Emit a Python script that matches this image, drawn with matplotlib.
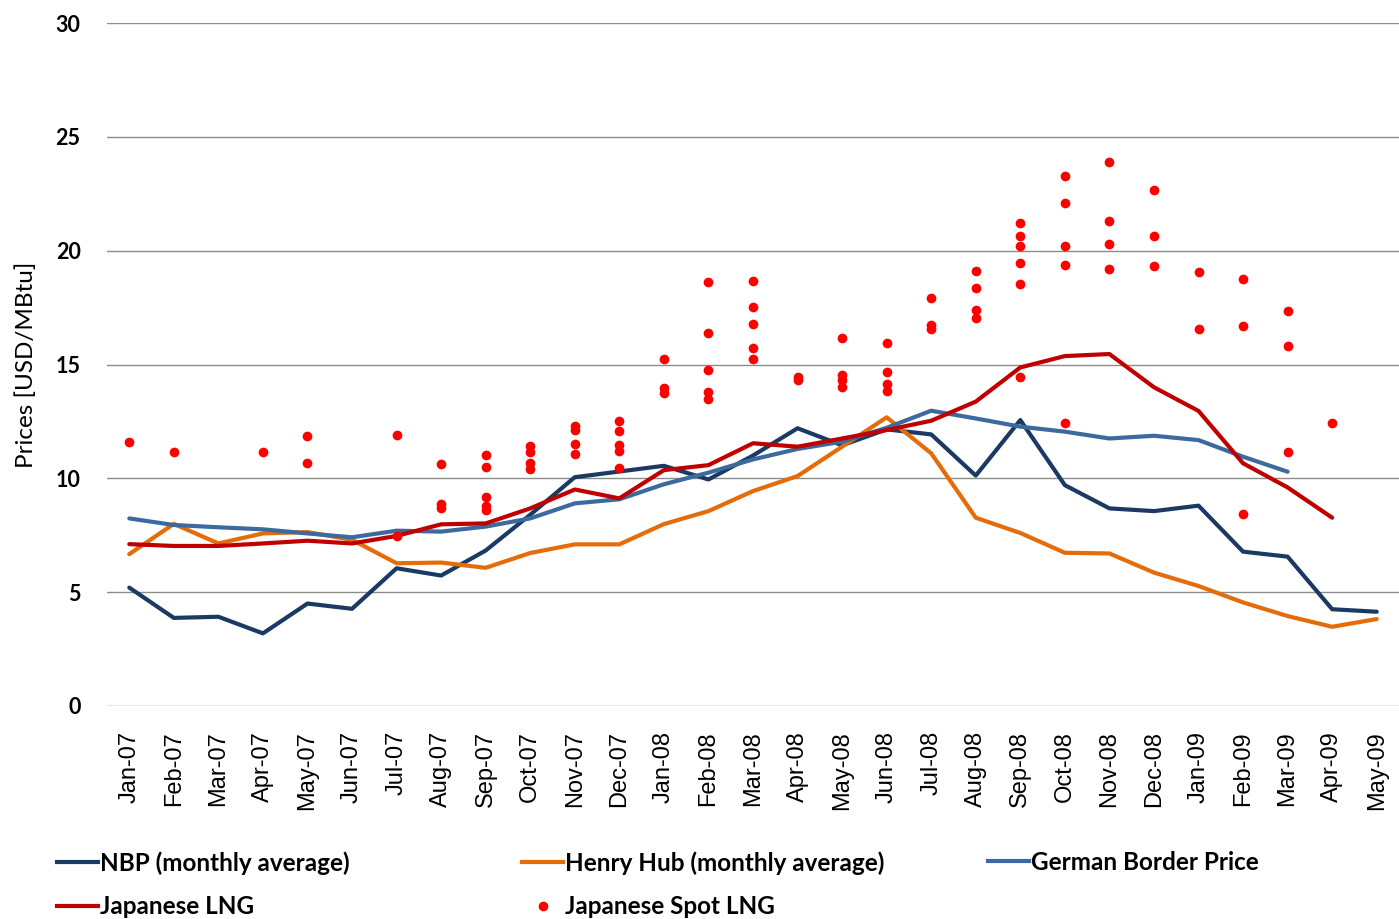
import matplotlib
matplotlib.use('Agg')
import matplotlib.pyplot as plt
import numpy as np
from matplotlib.lines import Line2D

# data (USD/MBtu)
months = ['Jan-07', 'Feb-07', 'Mar-07', 'Apr-07', 'May-07', 'Jun-07', 'Jul-07',
          'Aug-07', 'Sep-07', 'Oct-07', 'Nov-07', 'Dec-07', 'Jan-08', 'Feb-08',
          'Mar-08', 'Apr-08', 'May-08', 'Jun-08', 'Jul-08', 'Aug-08', 'Sep-08',
          'Oct-08', 'Nov-08', 'Dec-08', 'Jan-09', 'Feb-09', 'Mar-09', 'Apr-09',
          'May-09']

nbp = [5.2, 3.87, 3.92, 3.19, 4.5, 4.27, 6.05, 5.73, 6.83, 8.4, 10.05, 10.3,
       10.55, 9.95, 11.0, 12.2, 11.45, 12.15, 11.93, 10.12, 12.56, 9.7, 8.68,
       8.56, 8.8, 6.78, 6.56, 4.25, 4.14]

henry_hub = [6.67, 8.0, 7.14, 7.58, 7.64, 7.3, 6.27, 6.3, 6.07, 6.72, 7.1, 7.1,
             7.99, 8.56, 9.44, 10.1, 11.39, 12.68, 11.1, 8.27, 7.6, 6.73, 6.7,
             5.86, 5.27, 4.55, 3.95, 3.48, 3.82]

german_border = [8.24, 7.95, 7.85, 7.76, 7.58, 7.41, 7.7, 7.66, 7.88, 8.24, 8.9,
                 9.08, 9.74, 10.25, 10.83, 11.29, 11.61, 12.22, 12.97, 12.63,
                 12.27, 12.05, 11.75, 11.87, 11.68, 10.95, 10.29, np.nan, np.nan]

japanese_lng = [7.11, 7.03, 7.03, 7.14, 7.26, 7.14, 7.47, 7.98, 8.02, 8.68, 9.51,
                9.12, 10.36, 10.58, 11.54, 11.39, 11.75, 12.12, 12.53, 13.37,
                14.87, 15.37, 15.46, 14.0, 12.96, 10.66, 9.6, 8.27, np.nan]

# spot cargoes, one list per month
japanese_spot = [
    [11.58], [11.14], [], [11.14], [11.87, 10.66], [], [11.89, 7.47],
    [10.61, 8.87, 8.68], [11.02, 10.51, 9.19, 8.78, 8.61],
    [11.43, 11.14, 10.69, 10.41], [12.31, 12.12, 11.49, 11.07],
    [12.52, 12.08, 11.46, 11.2, 10.47], [15.23, 13.98, 13.73],
    [18.62, 16.4, 14.76, 13.8, 13.47], [18.66, 17.54, 16.8, 15.74, 15.24],
    [14.43, 14.32], [16.17, 14.54, 14.32, 14.0], [15.93, 14.68, 14.13, 13.83],
    [17.93, 16.73, 16.56], [19.1, 18.37, 17.39, 17.05],
    [21.23, 20.65, 20.2, 19.47, 18.53, 14.43], [23.3, 22.1, 20.2, 19.37, 12.41],
    [23.89, 21.31, 20.28, 19.19], [22.65, 20.64, 19.32], [19.07, 16.54],
    [18.74, 16.7, 8.42], [17.33, 15.83, 11.14], [12.44], [],
]

C_NBP = '#1b3a63'
C_HH = '#e46c0a'
C_GBP = '#3d6a9e'
C_JLNG = '#c00000'
C_SPOT = '#ff0000'

x = np.arange(len(months))
spot_x = [i for i, vals in enumerate(japanese_spot) for _ in vals]
spot_y = [v for vals in japanese_spot for v in vals]

fig = plt.figure(figsize=(13.99, 9.19), dpi=100)
ax = fig.add_axes([107 / 1399, 1 - 706 / 919, 1 - 107 / 1399, 683 / 919])

lw = 3.0
kw = dict(linewidth=lw, solid_joinstyle='round', solid_capstyle='round')
ax.plot(x, nbp, color=C_NBP, **kw)
ax.plot(x, henry_hub, color=C_HH, **kw)
ax.plot(x, german_border, color=C_GBP, **kw)
ax.plot(x, japanese_lng, color=C_JLNG, **kw)
ax.plot(spot_x, spot_y, linestyle='none', marker='o', markersize=7,
        color=C_SPOT, markeredgewidth=0, zorder=5)

ax.set_xlim(-0.5, len(months) - 0.5)
ax.set_ylim(0, 30)
ax.set_yticks(range(0, 31, 5))
ax.grid(axis='y', color='#8c8c8c', linewidth=1.0)
ax.set_axisbelow(True)
for s in ax.spines.values():
    s.set_visible(False)

ax.set_xticks(x)
ax.set_xticklabels(months, rotation=90, fontsize=17, family='Liberation Sans')
ax.tick_params(axis='x', length=0, pad=18)
ax.tick_params(axis='y', length=0, pad=19)
for lbl in ax.get_yticklabels():
    lbl.set_fontfamily('Lato')
    lbl.set_fontweight('bold')
    lbl.set_fontsize(15.5)

ax.set_ylabel('Prices [USD/MBtu]', fontsize=17.5, family='Lato')
ax.yaxis.set_label_coords(-0.054, 0.5)

# legend laid out in three columns like the original
def mk_line(c):
    return Line2D([], [], color=c, linewidth=lw)

spot_handle = Line2D([], [], linestyle='none', marker='o', markersize=7,
                     color=C_SPOT, markeredgewidth=0)
columns = [
    (57, [mk_line(C_NBP), mk_line(C_JLNG)],
     ['NBP (monthly average)', 'Japanese LNG']),
    (522, [mk_line(C_HH), spot_handle],
     ['Henry Hub (monthly average)', 'Japanese Spot LNG']),
    (988, [mk_line(C_GBP)], ['German Border Price']),
]
for px, handles, labels in columns:
    fig.legend(handles, labels, loc='upper left',
               bbox_to_anchor=(px / 1399, 1 - 851 / 919),
               frameon=False, borderpad=0, borderaxespad=0,
               handlelength=1.7, handletextpad=0.05, labelspacing=0.85,
               numpoints=1,
               prop={'family': 'Lato', 'weight': 'bold', 'size': 17.5})

fig.savefig('out.png', dpi=100)
